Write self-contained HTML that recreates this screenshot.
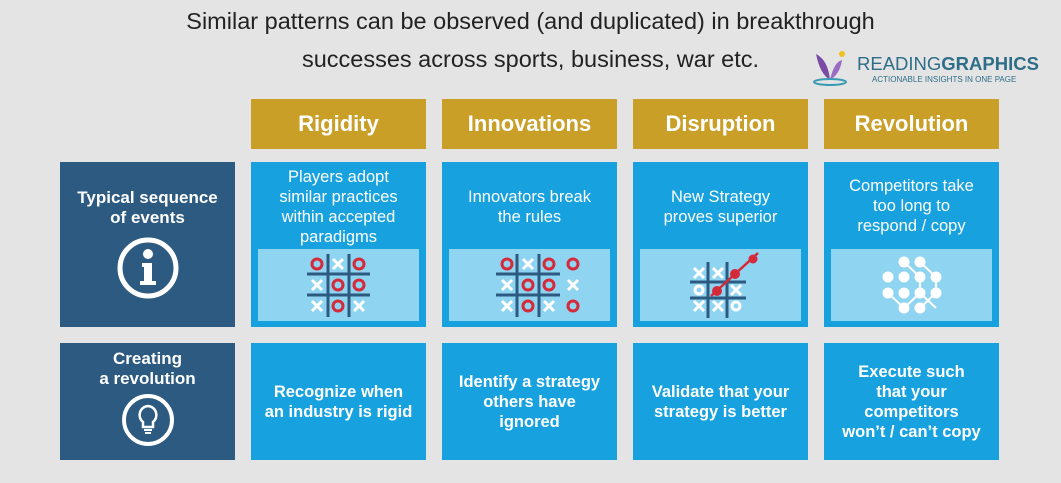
<!DOCTYPE html>
<html><head><meta charset="utf-8"><style>
body{margin:0;width:1061px;height:483px;background:#e4e4e4;position:relative;overflow:hidden;font-family:"Liberation Sans",sans-serif}
.a{position:absolute}
.t{color:#222;font-size:23.5px;text-align:center;width:1061px}
.h{background:#c99f27;color:#fff;font-weight:bold;font-size:22px;display:flex;align-items:center;justify-content:center;width:175px;height:50px;top:99px}
.d{background:#2c5a80;color:#fff;width:175px;font-weight:bold;font-size:17px;text-align:center;line-height:20px}
.c{background:#17a2df;color:#fff;width:175px;text-align:center;font-size:16.5px;line-height:20px}
.p{background:#8fd4f1;left:7px;top:87px;width:161px;height:72px;position:absolute}
.b{font-weight:bold;display:flex;align-items:center;justify-content:center}
</style></head><body>
<div class="a t" style="top:8px;left:0">Similar patterns can be observed (and duplicated) in breakthrough</div>
<div class="a t" style="top:46px;left:0">successes across sports, business, war etc.</div>
<svg class="a" style="left:808px;top:46px" width="40" height="40"><path d="M8 8 Q20 14 22 34 Q12 28 8 8Z" fill="#7b4aa6"/><path d="M22 34 Q26 16 34 14 Q32 28 22 34Z" fill="#9a6cc4"/><ellipse cx="22" cy="36" rx="16" ry="3" fill="none" stroke="#3a9bb5" stroke-width="2"/><circle cx="34" cy="8" r="3" fill="#f0c020"/></svg>
<div class="a" style="left:857px;top:53px;font-size:18.5px;color:#2e6e88">READING<b>GRAPHICS</b></div>
<div class="a" style="left:872px;top:75px;font-size:8px;color:#2e6e88">ACTIONABLE INSIGHTS IN ONE PAGE</div>

<div class="a h" style="left:251px">Rigidity</div>
<div class="a h" style="left:442px">Innovations</div>
<div class="a h" style="left:633px">Disruption</div>
<div class="a h" style="left:824px">Revolution</div>

<div class="a d" style="left:60px;top:162px;height:165px"><div style="margin-top:26px">Typical sequence<br>of events</div>
<svg width="64" height="64" style="margin-top:8px"><circle cx="32" cy="32" r="28" fill="none" stroke="#fff" stroke-width="5"/><circle cx="32" cy="18" r="5" fill="#fff"/><path d="M26 27h10v18h4v4H24v-4h4V31h-2z" fill="#fff"/></svg></div>
<div class="a d" style="left:60px;top:343px;height:117px"><div style="margin-top:6px">Creating<br>a revolution</div>
<svg width="56" height="56" style="margin-top:3px"><circle cx="28" cy="28" r="24" fill="none" stroke="#fff" stroke-width="4"/><path d="M28 14a9 9 0 0 0-5 16v5h10v-5a9 9 0 0 0-5-16z" fill="none" stroke="#fff" stroke-width="2.5"/><path d="M24 38h8M25 41h6" stroke="#fff" stroke-width="2"/></svg></div>

<div class="a c" style="left:251px;top:162px;height:165px"><div style="margin-top:5px">Players adopt<br>similar practices<br>within accepted<br>paradigms</div><div class="p"></div></div>
<div class="a c" style="left:442px;top:162px;height:165px"><div style="margin-top:25px">Innovators break<br>the rules</div><div class="p"></div></div>
<div class="a c" style="left:633px;top:162px;height:165px"><div style="margin-top:25px">New Strategy<br>proves superior</div><div class="p"></div></div>
<div class="a c" style="left:824px;top:162px;height:165px"><div style="margin-top:14px">Competitors take<br>too long to<br>respond / copy</div><div class="p"></div></div>

<div class="a c b" style="left:251px;top:343px;height:117px">Recognize when<br>an industry is rigid</div>
<div class="a c b" style="left:442px;top:343px;height:117px">Identify a strategy<br>others have<br>ignored</div>
<div class="a c b" style="left:633px;top:343px;height:117px">Validate that your<br>strategy is better</div>
<div class="a c b" style="left:824px;top:343px;height:117px">Execute such<br>that your<br>competitors<br>won’t / can’t copy</div>

<svg class="a" style="left:0;top:0" width="1061" height="483">
<defs>
<g id="o"><circle r="5" fill="none" stroke="#d42a3a" stroke-width="3"/></g>
<g id="x"><path d="M-5 -5L5 5M5 -5L-5 5" stroke="#fff" stroke-width="3"/></g>
</defs>
<g stroke="#2c5a80" stroke-width="3"><path d="M328 254V317M349 254V317M307 274H370M307 295H370"/>
<path d="M517 254V317M539 254V317M496 274H560M496 295H560"/>
<path d="M708 262V318M727 262V318M690 282H746M690 298H746"/></g>
<use href="#o" x="317" y="264"/><use href="#x" x="338" y="264"/><use href="#o" x="359" y="264"/>
<use href="#x" x="317" y="285"/><use href="#o" x="338" y="285"/><use href="#o" x="359" y="285"/>
<use href="#x" x="317" y="306"/><use href="#o" x="338" y="306"/><use href="#x" x="359" y="306"/>
<use href="#o" x="507" y="264"/><use href="#x" x="528" y="264"/><use href="#o" x="549" y="264"/><use href="#o" x="573" y="264"/>
<use href="#x" x="507" y="285"/><use href="#o" x="528" y="285"/><use href="#o" x="549" y="285"/><use href="#x" x="573" y="285"/>
<use href="#x" x="507" y="306"/><use href="#o" x="528" y="306"/><use href="#x" x="549" y="306"/><use href="#o" x="573" y="306"/>
<use href="#x" x="699" y="273"/><use href="#x" x="718" y="273"/>
<circle cx="699" cy="290" r="4" fill="none" stroke="#fff" stroke-width="3"/><use href="#x" x="736" y="290"/>
<use href="#x" x="699" y="306"/><use href="#x" x="718" y="306"/><circle cx="736" cy="306" r="4" fill="none" stroke="#fff" stroke-width="3"/>
<path d="M711 296L758 253" stroke="#d42a3a" stroke-width="2.5"/>
<circle cx="717" cy="291" r="5" fill="#d42a3a"/><circle cx="735" cy="274" r="5" fill="#d42a3a"/><circle cx="753" cy="259" r="4.5" fill="#d42a3a"/>
<g stroke="#fff" stroke-width="2" fill="none"><path d="M904 262L920 277L920 293L936 308M920 262L936 277L936 293L920 308M888 293L904 308L920 293"/></g>
<g fill="#fff"><circle cx="904" cy="262" r="5.5"/><circle cx="920" cy="262" r="5.5"/>
<circle cx="888" cy="277" r="5.5"/><circle cx="904" cy="277" r="5.5"/><circle cx="920" cy="277" r="5.5"/><circle cx="936" cy="277" r="5.5"/>
<circle cx="888" cy="293" r="5.5"/><circle cx="904" cy="293" r="5.5"/><circle cx="920" cy="293" r="5.5"/><circle cx="936" cy="293" r="5.5"/>
<circle cx="904" cy="308" r="5.5"/><circle cx="920" cy="308" r="5.5"/></g>
</svg>
</body></html>
